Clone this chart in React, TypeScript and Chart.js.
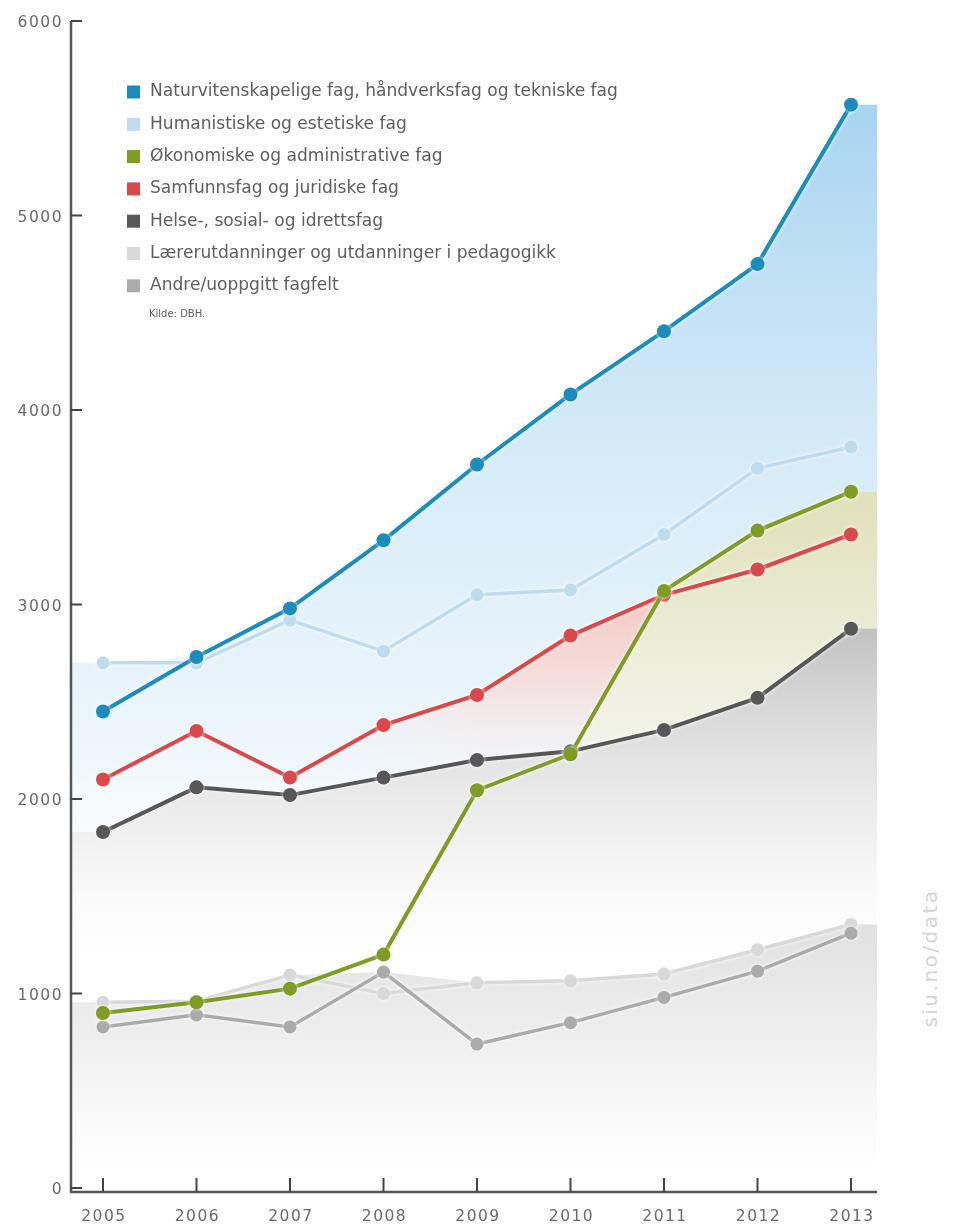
import React, { useEffect, useRef } from "react";
import { Chart, registerables } from "chart.js";

Chart.register(...registerables);

// ---------- data ----------
const years = [2005, 2006, 2007, 2008, 2009, 2010, 2011, 2012, 2013];
const naturvit = [2450, 2730, 2980, 3330, 3720, 4080, 4405, 4750, 5570];
const humanistiske = [2700, 2700, 2920, 2760, 3050, 3075, 3360, 3700, 3810];
const okonomiske = [900, 955, 1025, 1200, 2045, 2230, 3070, 3380, 3580];
const samfunnsfag = [2100, 2350, 2110, 2380, 2535, 2840, 3050, 3180, 3360];
const helse = [1830, 2060, 2020, 2110, 2200, 2245, 2355, 2520, 2875];
const laerer = [955, 960, 1095, 1000, 1055, 1065, 1100, 1225, 1355];
const andre = [828, 890, 828, 1110, 740, 850, 980, 1115, 1310];

const yTicks = [0, 1000, 2000, 3000, 4000, 5000, 6000];
const xTickLabels = ["2005", "2006", "2007", "2008", "2009", "2010", "2011", "2012", "2013"];

const legendLabels = [
  "Naturvitenskapelige fag, håndverksfag og tekniske fag",
  "Humanistiske og estetiske fag",
  "Økonomiske og administrative fag",
  "Samfunnsfag og juridiske fag",
  "Helse-, sosial- og idrettsfag",
  "Lærerutdanninger og utdanninger i pedagogikk",
  "Andre/uoppgitt fagfelt",
];
const sourceText = "Kilde: DBH.";
const watermark = "siu.no/data";

const C_NAT = "#1c8cbf";
const C_HUM = "#bfdcee";
const C_OKO = "#7f9c24";
const C_SAM = "#d9484a";
const C_HEL = "#575757";
const C_LAE = "#d9d9d9";
const C_AND = "#ababab";
const legendColors = [C_NAT, C_HUM, C_OKO, C_SAM, C_HEL, C_LAE, C_AND];

const FONT = "'DejaVu Sans', sans-serif";

function envelope(a: number[], b: number[]) {
  return a.map((v, i) => Math.max(v, b[i]));
}

const areaPlugin = {
  id: "areas",
  beforeDatasetsDraw(chart: any) {
    const { ctx, chartArea: ca, scales } = chart;
    const xs = scales.x;
    const ys = scales.y;
    const base = ca.bottom;
    const vgrad = (c: CanvasRenderingContext2D, stops: [number, string][]) => {
      const y0 = ys.getPixelForValue(6000);
      const y1 = ys.getPixelForValue(0);
      const g = c.createLinearGradient(0, y0, 0, y1);
      stops.forEach(([v, col]) => {
        const t = (ys.getPixelForValue(v) - y0) / (y1 - y0);
        g.addColorStop(Math.min(1, Math.max(0, t)), col);
      });
      return g;
    };
    const path = (c: CanvasRenderingContext2D, vals: number[]) => {
      c.beginPath();
      c.moveTo(ca.left, base);
      c.lineTo(ca.left, ys.getPixelForValue(vals[0]));
      vals.forEach((v, i) => c.lineTo(xs.getPixelForValue(years[i]), ys.getPixelForValue(v)));
      c.lineTo(ca.right, ys.getPixelForValue(vals[vals.length - 1]));
      c.lineTo(ca.right, base);
      c.closePath();
    };
    ctx.save();
    // blue area
    path(ctx, envelope(naturvit, humanistiske));
    ctx.fillStyle = vgrad(ctx, [
      [5700, "#a4d2f0"],
      [4700, "#c0e0f4"],
      [3800, "#d6ebf8"],
      [3000, "#e2f1fa"],
      [2300, "#edf6fc"],
      [1600, "#ffffff"],
    ]);
    ctx.fill();

    // red area (masked horizontally) on offscreen canvas
    const off = document.createElement("canvas");
    off.width = chart.width;
    off.height = chart.height;
    const oc = off.getContext("2d") as CanvasRenderingContext2D;
    path(oc, samfunnsfag);
    oc.fillStyle = vgrad(oc, [
      [3000, "rgba(246,200,194,0.95)"],
      [2650, "rgba(247,216,212,0.85)"],
      [2350, "rgba(248,232,230,0.55)"],
      [2100, "rgba(248,240,240,0)"],
    ]);
    oc.fill();
    oc.globalCompositeOperation = "destination-in";
    const hg = oc.createLinearGradient(xs.getPixelForValue(2007), 0, xs.getPixelForValue(2011.5), 0);
    hg.addColorStop(0, "rgba(0,0,0,0)");
    hg.addColorStop(0.45, "rgba(0,0,0,1)");
    hg.addColorStop(1, "rgba(0,0,0,1)");
    oc.fillStyle = hg;
    oc.fillRect(0, 0, off.width, off.height);
    ctx.drawImage(off, 0, 0);

    // olive area
    path(ctx, okonomiske);
    ctx.fillStyle = vgrad(ctx, [
      [3650, "#dfdfb9"],
      [3200, "#e6e6c8"],
      [2800, "#ecedd8"],
      [2400, "#f1f2e6"],
      [2000, "#f7f8f2"],
    ]);
    ctx.fill();

    // dark gray area
    path(ctx, helse);
    ctx.fillStyle = vgrad(ctx, [
      [3000, "#b9b9b9"],
      [2600, "#d2d2d2"],
      [2200, "#e4e4e4"],
      [1850, "#efefef"],
      [1500, "#fafafa"],
      [1200, "#ffffff"],
    ]);
    ctx.fill();

    // bottom gray area
    path(ctx, envelope(laerer, andre));
    ctx.fillStyle = vgrad(ctx, [
      [1450, "#dedede"],
      [1100, "#e7e7e7"],
      [800, "#eeeeee"],
      [450, "#f7f7f7"],
      [100, "#ffffff"],
    ]);
    ctx.fill();
    ctx.restore();
  },
};

const glowPlugin = {
  id: "glow",
  beforeDatasetDraw(chart: any) {
    const ctx = chart.ctx;
    ctx.save();
    ctx.shadowColor = "rgba(255,255,255,0.9)";
    ctx.shadowBlur = 4;
  },
  afterDatasetDraw(chart: any) {
    chart.ctx.restore();
  },
};

const decorPlugin = {
  id: "decor",
  afterDraw(chart: any) {
    const { ctx, chartArea: ca, scales } = chart;
    const xs = scales.x;
    const ys = scales.y;
    ctx.save();
    // axes
    ctx.strokeStyle = "#555555";
    ctx.lineWidth = 2.5;
    ctx.beginPath();
    ctx.moveTo(ca.left, ys.getPixelForValue(6000));
    ctx.lineTo(ca.left, ca.bottom);
    ctx.lineTo(ca.right, ca.bottom);
    ctx.stroke();
    // ticks
    ctx.lineWidth = 2;
    ctx.strokeStyle = "#444444";
    yTicks.forEach((v) => {
      const py = ys.getPixelForValue(v);
      ctx.beginPath();
      ctx.moveTo(ca.left, py);
      ctx.lineTo(ca.left + 11, py);
      ctx.stroke();
    });
    years.forEach((yr) => {
      const px = xs.getPixelForValue(yr);
      ctx.beginPath();
      ctx.moveTo(px, ca.bottom);
      ctx.lineTo(px, ca.bottom - 14);
      ctx.stroke();
    });
    // tick labels
    ctx.fillStyle = "#6a6a6a";
    ctx.font = `15.5px ${FONT}`;
    (ctx as any).letterSpacing = "1.5px";
    ctx.textAlign = "right";
    ctx.textBaseline = "middle";
    yTicks.forEach((v) => {
      ctx.fillText(String(v), ca.left - 8, ys.getPixelForValue(v) + 2);
    });
    ctx.textAlign = "center";
    years.forEach((yr, i) => {
      ctx.fillText(xTickLabels[i], xs.getPixelForValue(yr) + 1, ca.bottom + 25);
    });

    // legend
    (ctx as any).letterSpacing = "0px";
    ctx.font = `15px ${FONT}`;
    const w15 = ctx.measureText(legendLabels[0]).width;
    const fs = (15 * 468) / w15;
    ctx.font = `${fs.toFixed(2)}px ${FONT}`;
    ctx.textAlign = "left";
    ctx.textBaseline = "middle";
    legendLabels.forEach((lab, i) => {
      const cy = 92 + i * 32.3;
      ctx.fillStyle = legendColors[i];
      ctx.fillRect(127, cy - 6.5, 13, 13);
      ctx.fillStyle = "#5e5e5e";
      ctx.fillText(lab, 150, cy);
    });
    ctx.font = `10px ${FONT}`;
    ctx.fillStyle = "#5e5e5e";
    ctx.fillText(sourceText, 149, 92 + 7 * 32.3 - 4);

    // watermark
    ctx.translate(932, 958);
    ctx.rotate(-Math.PI / 2);
    ctx.font = `20px ${FONT}`;
    (ctx as any).letterSpacing = "2.5px";
    ctx.fillStyle = "#d4d4d4";
    ctx.textAlign = "center";
    ctx.textBaseline = "middle";
    ctx.fillText(watermark, 0, 0);
    ctx.restore();
  },
};

function ds(label: string, vals: number[], color: string, radius: number, width: number) {
  return {
    label,
    data: years.map((yr, i) => ({ x: yr, y: vals[i] })),
    borderColor: color,
    backgroundColor: color,
    pointBackgroundColor: color,
    pointBorderColor: color,
    pointBorderWidth: 0,
    pointRadius: radius,
    borderWidth: width,
    fill: false,
    tension: 0,
  };
}

export default function App() {
  const ref = useRef<HTMLCanvasElement | null>(null);
  useEffect(() => {
    if (!ref.current) return;
    const chart = new Chart(ref.current, {
      type: "line",
      data: {
        datasets: [
          ds(legendLabels[0], naturvit, C_NAT, 7, 4),
          ds(legendLabels[2], okonomiske, C_OKO, 7, 4),
          ds(legendLabels[3], samfunnsfag, C_SAM, 7, 4),
          ds(legendLabels[4], helse, C_HEL, 7, 4),
          ds(legendLabels[1], humanistiske, C_HUM, 6.5, 3.5),
          ds(legendLabels[6], andre, C_AND, 6.5, 3.5),
          ds(legendLabels[5], laerer, C_LAE, 6.5, 3.5),
        ],
      },
      options: {
        animation: false,
        responsive: false,
        devicePixelRatio: 1,
        layout: { padding: { left: 71, right: 77, top: 21, bottom: 32 } },
        plugins: { legend: { display: false }, tooltip: { enabled: false } },
        scales: {
          x: { type: "linear", min: 2004.658, max: 2013.278, display: false },
          y: { type: "linear", min: -20.6, max: 6000, display: false },
        },
      },
      plugins: [areaPlugin, glowPlugin, decorPlugin],
    } as any);
    return () => chart.destroy();
  }, []);
  return (
    <div style={{ position: "fixed", left: 0, top: 0, width: 954, height: 1224, background: "#ffffff" }}>
      <canvas ref={ref} width={954} height={1224} style={{ display: "block" }} />
    </div>
  );
}
